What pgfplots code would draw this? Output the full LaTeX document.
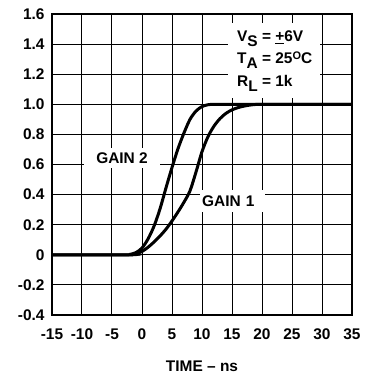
\documentclass[border=0pt]{standalone}
\usepackage{pgfplots}
\pgfplotsset{compat=1.18}
\usepackage{fontspec}
\setmainfont{Liberation Sans}
\begin{document}
\begin{tikzpicture}[font=\fontsize{15.5}{18}\selectfont\bfseries]
\begin{axis}[
  at={(0,0)}, anchor=south west,
  scale only axis, width=300bp, height=301bp,
  xmin=-15, xmax=35, ymin=-0.4, ymax=1.6,
  xtick={-15,-10,...,35},
  xticklabels={-15,-10,-5,0,5,10,15,20,25,30,35},
  ytick={-0.4,-0.2,0,0.2,0.4,0.6,0.8,1.0,1.2,1.4,1.6},
  yticklabels={-0.4,-0.2,0,0.2,0.4,0.6,0.8,1.0,1.2,1.4,1.6},
  major tick length=0pt,
  grid=major,
  grid style={black, line width=1bp},
  axis line style={black, line width=1.8bp},
  xticklabel style={yshift=-10bp},
  yticklabel style={xshift=-4bp},
  xlabel={TIME -- ns},
  xlabel style={at={(axis description cs:0.5,0)}, anchor=center, yshift=-51bp},
  clip=true,
]
\addplot[black, line width=3bp, smooth] coordinates {
(-15,0) (-3,0) (-2,0.003) (-1,0.015) (0,0.045) (1,0.105) (2,0.19) (3,0.305)
(4,0.445) (5,0.58) (6,0.705) (7,0.81) (8,0.9) (9,0.955) (10,0.985) (11,0.997)
(12,1.0) (14,1.0) (35,1.0)};
\addplot[black, line width=3bp, smooth] coordinates {
(-15,0) (-2,0) (-1,0.006) (0,0.022) (1,0.05) (2,0.085) (3,0.125) (4,0.17)
(5,0.225) (6,0.285) (7,0.35) (8,0.425) (9,0.55) (10,0.685) (11,0.785)
(12,0.855) (13,0.905) (14,0.94) (15,0.963) (16,0.978) (17,0.988) (18,0.995)
(19,0.999) (20,1.0) (22,1.0) (35,1.0)};
\node[fill=white, inner xsep=12bp, inner ysep=5bp] at (axis cs:-3.33,0.643) {GAIN 2};
\node[fill=white, anchor=west, inner xsep=2bp, inner ysep=5.5bp, text width=61bp, align=left] at (axis cs:9.67,0.357) {GAIN 1};
\fill[white] (axis cs:14.33,1.54) rectangle (axis cs:29.67,1.042);
\node[anchor=north west, align=left, inner sep=0pt, font=\fontsize{15.5}{22.5}\selectfont\bfseries] at (axis cs:15.83,1.49)
{V\raisebox{-5bp}{S} = \underline{+}6V\\
T\raisebox{-5bp}{A} = 25\raisebox{4bp}{\fontsize{11}{11}\selectfont O}C\\
R\raisebox{-5bp}{L} = 1k};
\end{axis}
\path (-52bp,-64bp) rectangle (319bp,315bp);
\end{tikzpicture}
\end{document}
